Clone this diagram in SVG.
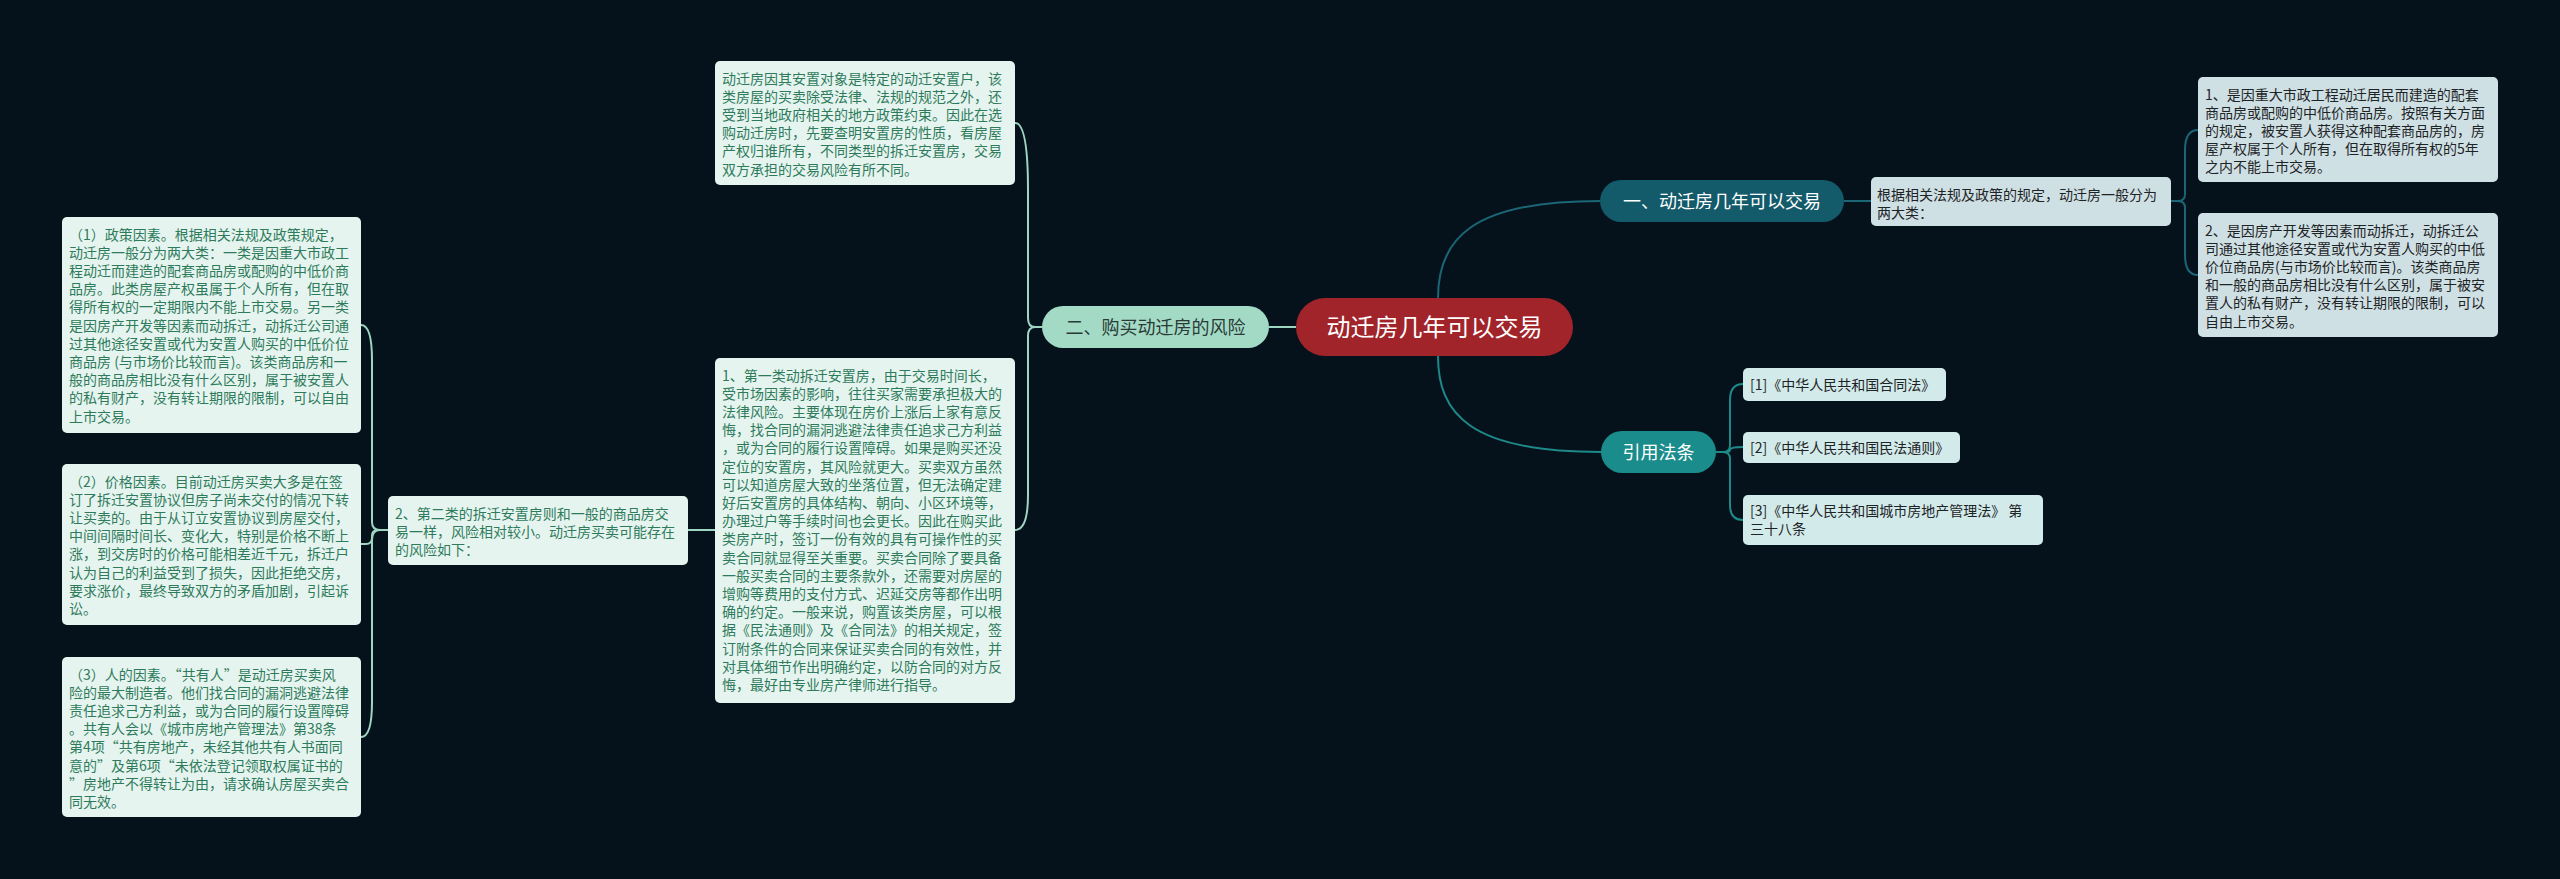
<svg xmlns="http://www.w3.org/2000/svg" width="2560" height="879" viewBox="0 0 2560 879">
<style>
.t{font-family:"Noto Sans CJK SC","Liberation Sans",sans-serif;font-size:14px}
.lt{fill:#2e7b5c}
.rt{fill:#1e2426}
.lb{fill:#e6f4ef}
.rb{fill:#cfe0e4}
.cb{fill:#d2eaea}
.nt{font-family:"Noto Sans CJK SC","Liberation Sans",sans-serif;font-size:18px;text-anchor:middle}
.cl{fill:none;stroke-width:2}
.m{stroke:#9fd6c2}
.d{stroke:#1b6676}
.c{stroke:#1d8989}
</style>
<rect width="2560" height="879" fill="#06121b"/>
<g id="connectors">
<path class="cl m" d="M1296,327 L1269,327"/>
<path class="cl m" d="M1042,327 L1035,327 Q1028,327 1028,318 L1028,190 Q1028,123 1015,123"/>
<path class="cl m" d="M1042,327 L1035,327 Q1028,327 1028,336 L1028,495 Q1028,530 1015,530"/>
<path class="cl m" d="M715,530 L688,530"/>
<path class="cl m" d="M388,530 L380,530 Q372,530 372,522 L372,360 Q372,325 361,325"/>
<path class="cl m" d="M388,530 L378,530 Q372,530 372,536 L372,538 Q372,544 366,544 L361,544"/>
<path class="cl m" d="M388,530 L380,530 Q372,530 372,540 L372,702 Q372,737 361,737"/>
<path class="cl d" d="M1438,298 C1438,240 1470,201 1600,201"/>
<path class="cl d" d="M1844,201 L1871,201"/>
<path class="cl d" d="M2171,201 L2178,201 Q2185,201 2185,194 L2185,150 Q2185,130 2198,130"/>
<path class="cl d" d="M2171,201 L2178,201 Q2185,201 2185,208 L2185,255 Q2185,275 2198,275"/>
<path class="cl c" d="M1438,356 C1438,414 1470,452 1601,452"/>
<path class="cl c" d="M1716,452 L1723,452 Q1730,452 1730,445 L1730,400 Q1730,384 1743,384"/>
<path class="cl c" d="M1716,452 L1726,452 Q1730,452 1730,450 Q1730,447 1743,447"/>
<path class="cl c" d="M1716,452 L1723,452 Q1730,452 1730,459 L1730,505 Q1730,520 1743,520"/>
</g>
<g id="center">
<rect x="1296" y="298" width="277" height="58" rx="29" fill="#a1242a"/>
<text x="1434.5" y="336" class="nt" style="font-size:24px" fill="#ffffff">动迁房几年可以交易</text>
</g>
<g id="node-risk">
<rect x="1042" y="306" width="227" height="42" rx="21" fill="#a3dac6"/>
<text x="1155.5" y="333.5" class="nt" fill="#2a3a35">二、购买动迁房的风险</text>
</g>
<g id="node-years">
<rect x="1600" y="180" width="244" height="42" rx="21" fill="#135a6a"/>
<text x="1722" y="207.5" class="nt" fill="#ffffff">一、动迁房几年可以交易</text>
</g>
<g id="node-law">
<rect x="1601" y="431" width="115" height="42" rx="21" fill="#1b8c8c"/>
<text x="1658.5" y="458.5" class="nt" fill="#ffffff">引用法条</text>
</g>
<g id="box-top">
<rect x="715" y="61" width="300" height="124" rx="5" class="lb"/>
<text class="t lt" x="722" y="83.5"><tspan x="722">动迁房因其安置对象是特定的动迁安置户，该</tspan><tspan x="722" dy="18.2">类房屋的买卖除受法律、法规的规范之外，还</tspan><tspan x="722" dy="18.2">受到当地政府相关的地方政策约束。因此在选</tspan><tspan x="722" dy="18.2">购动迁房时，先要查明安置房的性质，看房屋</tspan><tspan x="722" dy="18.2">产权归谁所有，不同类型的拆迁安置房，交易</tspan><tspan x="722" dy="18.2">双方承担的交易风险有所不同。</tspan></text>
</g>
<g id="box-first">
<rect x="715" y="358" width="300" height="345" rx="5" class="lb"/>
<text class="t lt" x="722" y="380.5"><tspan x="722">1、第一类动拆迁安置房，由于交易时间长，</tspan><tspan x="722" dy="18.2">受市场因素的影响，往往买家需要承担极大的</tspan><tspan x="722" dy="18.2">法律风险。主要体现在房价上涨后上家有意反</tspan><tspan x="722" dy="18.2">悔，找合同的漏洞逃避法律责任追求己方利益</tspan><tspan x="722" dy="18.2">，或为合同的履行设置障碍。如果是购买还没</tspan><tspan x="722" dy="18.2">定位的安置房，其风险就更大。买卖双方虽然</tspan><tspan x="722" dy="18.2">可以知道房屋大致的坐落位置，但无法确定建</tspan><tspan x="722" dy="18.2">好后安置房的具体结构、朝向、小区环境等，</tspan><tspan x="722" dy="18.2">办理过户等手续时间也会更长。因此在购买此</tspan><tspan x="722" dy="18.2">类房产时，签订一份有效的具有可操作性的买</tspan><tspan x="722" dy="18.2">卖合同就显得至关重要。买卖合同除了要具备</tspan><tspan x="722" dy="18.2">一般买卖合同的主要条款外，还需要对房屋的</tspan><tspan x="722" dy="18.2">增购等费用的支付方式、迟延交房等都作出明</tspan><tspan x="722" dy="18.2">确的约定。一般来说，购置该类房屋，可以根</tspan><tspan x="722" dy="18.2">据《民法通则》及《合同法》的相关规定，签</tspan><tspan x="722" dy="18.2">订附条件的合同来保证买卖合同的有效性，并</tspan><tspan x="722" dy="18.2">对具体细节作出明确约定，以防合同的对方反</tspan><tspan x="722" dy="18.2">悔，最好由专业房产律师进行指导。</tspan></text>
</g>
<g id="box-second">
<rect x="388" y="496" width="300" height="69" rx="5" class="lb"/>
<text class="t lt" x="395" y="518.5"><tspan x="395">2、第二类的拆迁安置房则和一般的商品房交</tspan><tspan x="395" dy="18.2">易一样，风险相对较小。动迁房买卖可能存在</tspan><tspan x="395" dy="18.2">的风险如下：</tspan></text>
</g>
<g id="box-policy">
<rect x="62" y="217" width="299" height="216" rx="5" class="lb"/>
<text class="t lt" x="69" y="239.5"><tspan x="69">（1）政策因素。根据相关法规及政策规定，</tspan><tspan x="69" dy="18.2">动迁房一般分为两大类：一类是因重大市政工</tspan><tspan x="69" dy="18.2">程动迁而建造的配套商品房或配购的中低价商</tspan><tspan x="69" dy="18.2">品房。此类房屋产权虽属于个人所有，但在取</tspan><tspan x="69" dy="18.2">得所有权的一定期限内不能上市交易。另一类</tspan><tspan x="69" dy="18.2">是因房产开发等因素而动拆迁，动拆迁公司通</tspan><tspan x="69" dy="18.2">过其他途径安置或代为安置人购买的中低价位</tspan><tspan x="69" dy="18.2">商品房 (与市场价比较而言)。该类商品房和一</tspan><tspan x="69" dy="18.2">般的商品房相比没有什么区别，属于被安置人</tspan><tspan x="69" dy="18.2">的私有财产，没有转让期限的限制，可以自由</tspan><tspan x="69" dy="18.2">上市交易。</tspan></text>
</g>
<g id="box-price">
<rect x="62" y="464" width="299" height="161" rx="5" class="lb"/>
<text class="t lt" x="69" y="486.5"><tspan x="69">（2）价格因素。目前动迁房买卖大多是在签</tspan><tspan x="69" dy="18.2">订了拆迁安置协议但房子尚未交付的情况下转</tspan><tspan x="69" dy="18.2">让买卖的。由于从订立安置协议到房屋交付，</tspan><tspan x="69" dy="18.2">中间间隔时间长、变化大，特别是价格不断上</tspan><tspan x="69" dy="18.2">涨，到交房时的价格可能相差近千元，拆迁户</tspan><tspan x="69" dy="18.2">认为自己的利益受到了损失，因此拒绝交房，</tspan><tspan x="69" dy="18.2">要求涨价，最终导致双方的矛盾加剧，引起诉</tspan><tspan x="69" dy="18.2">讼。</tspan></text>
</g>
<g id="box-people">
<rect x="62" y="657" width="299" height="160" rx="5" class="lb"/>
<text class="t lt" x="69" y="679.5"><tspan x="69">（3）人的因素。“共有人”是动迁房买卖风</tspan><tspan x="69" dy="18.2">险的最大制造者。他们找合同的漏洞逃避法律</tspan><tspan x="69" dy="18.2">责任追求己方利益，或为合同的履行设置障碍</tspan><tspan x="69" dy="18.2">。共有人会以《城市房地产管理法》第38条</tspan><tspan x="69" dy="18.2">第4项“共有房地产，未经其他共有人书面同</tspan><tspan x="69" dy="18.2">意的”及第6项“未依法登记领取权属证书的</tspan><tspan x="69" dy="18.2">”房地产不得转让为由，请求确认房屋买卖合</tspan><tspan x="69" dy="18.2">同无效。</tspan></text>
</g>
<g id="box-basis">
<rect x="1871" y="177" width="300" height="49" rx="5" class="rb"/>
<text class="t rt" x="1877" y="199.5"><tspan x="1877">根据相关法规及政策的规定，动迁房一般分为</tspan><tspan x="1877" dy="18.2">两大类：</tspan></text>
</g>
<g id="box-type1">
<rect x="2198" y="77" width="300" height="105" rx="5" class="rb"/>
<text class="t rt" x="2205" y="99.5"><tspan x="2205">1、是因重大市政工程动迁居民而建造的配套</tspan><tspan x="2205" dy="18.2">商品房或配购的中低价商品房。按照有关方面</tspan><tspan x="2205" dy="18.2">的规定，被安置人获得这种配套商品房的，房</tspan><tspan x="2205" dy="18.2">屋产权属于个人所有，但在取得所有权的5年</tspan><tspan x="2205" dy="18.2">之内不能上市交易。</tspan></text>
</g>
<g id="box-type2">
<rect x="2198" y="213" width="300" height="124" rx="5" class="rb"/>
<text class="t rt" x="2205" y="235.5"><tspan x="2205">2、是因房产开发等因素而动拆迁，动拆迁公</tspan><tspan x="2205" dy="18.2">司通过其他途径安置或代为安置人购买的中低</tspan><tspan x="2205" dy="18.2">价位商品房(与市场价比较而言)。该类商品房</tspan><tspan x="2205" dy="18.2">和一般的商品房相比没有什么区别，属于被安</tspan><tspan x="2205" dy="18.2">置人的私有财产，没有转让期限的限制，可以</tspan><tspan x="2205" dy="18.2">自由上市交易。</tspan></text>
</g>
<g id="law-1">
<rect x="1743" y="368" width="203" height="33" rx="5" class="cb"/>
<text class="t rt" x="1750" y="389.5">[1]《中华人民共和国合同法》</text>
</g>
<g id="law-2">
<rect x="1743" y="432" width="217" height="31" rx="5" class="cb"/>
<text class="t rt" x="1750" y="452.5">[2]《中华人民共和国民法通则》</text>
</g>
<g id="law-3">
<rect x="1743" y="495" width="300" height="50" rx="5" class="cb"/>
<text class="t rt" x="1750" y="516"><tspan x="1750">[3]《中华人民共和国城市房地产管理法》 第</tspan><tspan x="1750" dy="18.2">三十八条</tspan></text>
</g>
</svg>
